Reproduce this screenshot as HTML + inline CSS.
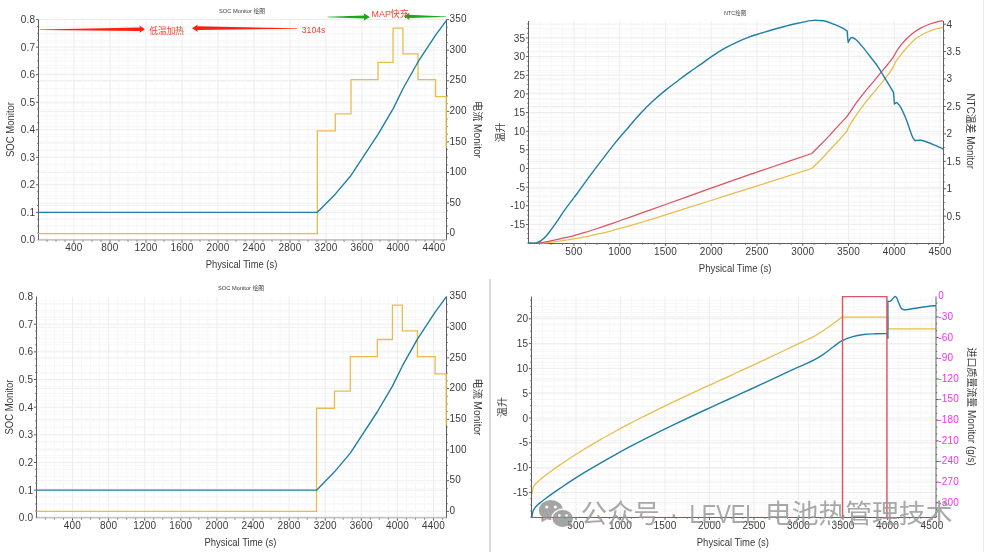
<!DOCTYPE html>
<html lang="zh"><head><meta charset="utf-8"><title>SOC / NTC Monitor plots</title>
<style>html,body{margin:0;padding:0;background:#fff;}body{width:984px;height:552px;overflow:hidden;}svg{display:block;will-change:transform;}</style></head>
<body>
<svg width="984" height="552" viewBox="0 0 984 552" font-family='"Liberation Sans", "Noto Sans CJK SC", sans-serif' shape-rendering="geometricPrecision">
<rect width="984" height="552" fill="#ffffff"/>
<rect x="489" y="279" width="2" height="273" fill="#dcdcdc"/>
<rect x="983" y="0" width="1" height="552" fill="#ebebeb"/>
<path d="M38.5 226.05H446.5M38.5 218.41H446.5M38.5 210.76H446.5M38.5 195.47H446.5M38.5 187.82H446.5M38.5 180.18H446.5M38.5 164.88H446.5M38.5 157.24H446.5M38.5 149.59H446.5M38.5 134.3H446.5M38.5 126.65H446.5M38.5 119.01H446.5M38.5 103.71H446.5M38.5 96.07H446.5M38.5 88.42H446.5M38.5 73.13H446.5M38.5 65.48H446.5M38.5 57.84H446.5M38.5 42.54H446.5M38.5 34.9H446.5M38.5 27.25H446.5" stroke="#f8f8f8" stroke-width="1" fill="none"/>
<path d="M38.5 233.7H446.5M38.5 203.11H446.5M38.5 172.53H446.5M38.5 141.94H446.5M38.5 111.36H446.5M38.5 80.77H446.5M38.5 50.19H446.5" stroke="#efefef" stroke-width="1" fill="none"/>
<path d="M47 19.6V239.8M56 19.6V239.8M65 19.6V239.8M83 19.6V239.8M92 19.6V239.8M101 19.6V239.8M119 19.6V239.8M128 19.6V239.8M137 19.6V239.8M155 19.6V239.8M164 19.6V239.8M173 19.6V239.8M191 19.6V239.8M200 19.6V239.8M209 19.6V239.8M227 19.6V239.8M236 19.6V239.8M245 19.6V239.8M263 19.6V239.8M272 19.6V239.8M281 19.6V239.8M299 19.6V239.8M308 19.6V239.8M317 19.6V239.8M335 19.6V239.8M344 19.6V239.8M353 19.6V239.8M371 19.6V239.8M380 19.6V239.8M389 19.6V239.8M407 19.6V239.8M416 19.6V239.8M425 19.6V239.8M443 19.6V239.8M38.5 233.01H446.5M38.5 226.12H446.5M38.5 219.24H446.5M38.5 205.47H446.5M38.5 198.59H446.5M38.5 191.7H446.5M38.5 177.93H446.5M38.5 171.05H446.5M38.5 164.17H446.5M38.5 150.4H446.5M38.5 143.51H446.5M38.5 136.63H446.5M38.5 122.86H446.5M38.5 115.98H446.5M38.5 109.09H446.5M38.5 95.33H446.5M38.5 88.44H446.5M38.5 81.56H446.5M38.5 67.79H446.5M38.5 60.91H446.5M38.5 54.02H446.5M38.5 40.25H446.5M38.5 33.37H446.5M38.5 26.49H446.5" stroke="#f7f7f7" stroke-width="1" fill="none"/>
<path d="M74 19.6V239.8M110 19.6V239.8M146 19.6V239.8M182 19.6V239.8M218 19.6V239.8M254 19.6V239.8M290 19.6V239.8M326 19.6V239.8M362 19.6V239.8M398 19.6V239.8M434 19.6V239.8M38.5 212.35H446.5M38.5 184.82H446.5M38.5 157.28H446.5M38.5 129.75H446.5M38.5 102.21H446.5M38.5 74.67H446.5M38.5 47.14H446.5M38.5 19.6H446.5" stroke="#ededed" stroke-width="1" fill="none"/>
<path d="M37.5 239.8H447" stroke="#c4c4c4" stroke-width="1.7" fill="none"/>
<path d="M38.5 19.6V239.8M446.5 239.8V19.6M47 240.4v1.2M56 240.4v1.2M65 240.4v1.2M74 240.4v2.4M83 240.4v1.2M92 240.4v1.2M101 240.4v1.2M110 240.4v2.4M119 240.4v1.2M128 240.4v1.2M137 240.4v1.2M146 240.4v2.4M155 240.4v1.2M164 240.4v1.2M173 240.4v1.2M182 240.4v2.4M191 240.4v1.2M200 240.4v1.2M209 240.4v1.2M218 240.4v2.4M227 240.4v1.2M236 240.4v1.2M245 240.4v1.2M254 240.4v2.4M263 240.4v1.2M272 240.4v1.2M281 240.4v1.2M290 240.4v2.4M299 240.4v1.2M308 240.4v1.2M317 240.4v1.2M326 240.4v2.4M335 240.4v1.2M344 240.4v1.2M353 240.4v1.2M362 240.4v2.4M371 240.4v1.2M380 240.4v1.2M389 240.4v1.2M398 240.4v2.4M407 240.4v1.2M416 240.4v1.2M425 240.4v1.2M434 240.4v2.4M443 240.4v1.2M38.5 233.01h-1.2M38.5 226.12h-1.2M38.5 219.24h-1.2M38.5 212.35h-2.6M38.5 205.47h-1.2M38.5 198.59h-1.2M38.5 191.7h-1.2M38.5 184.82h-2.6M38.5 177.93h-1.2M38.5 171.05h-1.2M38.5 164.17h-1.2M38.5 157.28h-2.6M38.5 150.4h-1.2M38.5 143.51h-1.2M38.5 136.63h-1.2M38.5 129.75h-2.6M38.5 122.86h-1.2M38.5 115.98h-1.2M38.5 109.09h-1.2M38.5 102.21h-2.6M38.5 95.33h-1.2M38.5 88.44h-1.2M38.5 81.56h-1.2M38.5 74.67h-2.6M38.5 67.79h-1.2M38.5 60.91h-1.2M38.5 54.02h-1.2M38.5 47.14h-2.6M38.5 40.25h-1.2M38.5 33.37h-1.2M38.5 26.49h-1.2M38.5 19.6h-2.6M446.5 233.7h2.6M446.5 226.05h1.2M446.5 218.41h1.2M446.5 210.76h1.2M446.5 203.11h2.6M446.5 195.47h1.2M446.5 187.82h1.2M446.5 180.18h1.2M446.5 172.53h2.6M446.5 164.88h1.2M446.5 157.24h1.2M446.5 149.59h1.2M446.5 141.94h2.6M446.5 134.3h1.2M446.5 126.65h1.2M446.5 119.01h1.2M446.5 111.36h2.6M446.5 103.71h1.2M446.5 96.07h1.2M446.5 88.42h1.2M446.5 80.77h2.6M446.5 73.13h1.2M446.5 65.48h1.2M446.5 57.84h1.2M446.5 50.19h2.6M446.5 42.54h1.2M446.5 34.9h1.2M446.5 27.25h1.2M446.5 19.6h2.6" stroke="#5e5e5e" stroke-width="1" fill="none"/>
<g font-size="10.0" fill="#3a3a3a" letter-spacing="0.2"><text x="74" y="251.1" text-anchor="middle">400</text><text x="110" y="251.1" text-anchor="middle">800</text><text x="146" y="251.1" text-anchor="middle">1200</text><text x="182" y="251.1" text-anchor="middle">1600</text><text x="218" y="251.1" text-anchor="middle">2000</text><text x="254" y="251.1" text-anchor="middle">2400</text><text x="290" y="251.1" text-anchor="middle">2800</text><text x="326" y="251.1" text-anchor="middle">3200</text><text x="362" y="251.1" text-anchor="middle">3600</text><text x="398" y="251.1" text-anchor="middle">4000</text><text x="434" y="251.1" text-anchor="middle">4400</text><text x="35.3" y="243.49" text-anchor="end">0.0</text><text x="35.3" y="215.95" text-anchor="end">0.1</text><text x="35.3" y="188.42" text-anchor="end">0.2</text><text x="35.3" y="160.88" text-anchor="end">0.3</text><text x="35.3" y="133.35" text-anchor="end">0.4</text><text x="35.3" y="105.81" text-anchor="end">0.5</text><text x="35.3" y="78.27" text-anchor="end">0.6</text><text x="35.3" y="50.74" text-anchor="end">0.7</text><text x="35.3" y="23.2" text-anchor="end">0.8</text></g><g font-size="10.0" fill="#3a3a3a" letter-spacing="0.2"><text x="449.5" y="236.4">0</text><text x="449.5" y="205.81">50</text><text x="449.5" y="175.23">100</text><text x="449.5" y="144.64">150</text><text x="449.5" y="114.06">200</text><text x="449.5" y="83.47">250</text><text x="449.5" y="52.89">300</text><text x="449.5" y="22.3">350</text></g>
<path d="M38 233.7L317.36 233.7L317.36 130.93L335.27 130.93L335.27 113.81L351.02 113.81L351.02 79.55L378.02 79.55L378.02 62.42L393.05 62.42L393.05 28.17L402.95 28.17L402.95 53.86L417.98 53.86L417.98 79.55L435.62 79.55L435.62 96.68L446.2 96.68L446.2 148.06" stroke="#e8be4b" stroke-width="1.3" fill="none" stroke-linejoin="miter"/>
<path d="M38 212.35L317.36 212.35L335.27 194.15L351.02 175.47L378.02 134.31L393.05 108.84L402.95 88.72L417.98 61.98L435.62 35.09L446.5 20.34" stroke="#1f7fa6" stroke-width="1.4" fill="none" stroke-linejoin="round"/>
<text x="242" y="13.3" font-size="5.6" text-anchor="middle" fill="#3a3a3a" textLength="46" lengthAdjust="spacingAndGlyphs">SOC Monitor 绘图</text>
<text x="241.5" y="267.6" font-size="10.1" text-anchor="middle" fill="#3a3a3a" textLength="71.7" lengthAdjust="spacingAndGlyphs">Physical Time (s)</text>
<text x="13.8" y="129.5" font-size="10.1" text-anchor="middle" fill="#3a3a3a" transform="rotate(-90 13.8 129.5)" textLength="55" lengthAdjust="spacingAndGlyphs">SOC Monitor</text>
<text x="474.2" y="129.5" font-size="10.1" text-anchor="middle" fill="#3a3a3a" transform="rotate(90 474.2 129.5)" textLength="57" lengthAdjust="spacingAndGlyphs">电流 Monitor</text>
<path d="M36.5 503.73H446.5M36.5 496.05H446.5M36.5 488.38H446.5M36.5 473.03H446.5M36.5 465.36H446.5M36.5 457.68H446.5M36.5 442.34H446.5M36.5 434.66H446.5M36.5 426.99H446.5M36.5 411.64H446.5M36.5 403.97H446.5M36.5 396.29H446.5M36.5 380.95H446.5M36.5 373.27H446.5M36.5 365.6H446.5M36.5 350.25H446.5M36.5 342.58H446.5M36.5 334.9H446.5M36.5 319.56H446.5M36.5 311.88H446.5M36.5 304.21H446.5" stroke="#f8f8f8" stroke-width="1" fill="none"/>
<path d="M36.5 511.4H446.5M36.5 480.7H446.5M36.5 450.01H446.5M36.5 419.31H446.5M36.5 388.62H446.5M36.5 357.92H446.5M36.5 327.23H446.5" stroke="#efefef" stroke-width="1" fill="none"/>
<path d="M45.42 296.55V517.7M54.45 296.55V517.7M63.47 296.55V517.7M81.53 296.55V517.7M90.55 296.55V517.7M99.57 296.55V517.7M117.62 296.55V517.7M126.65 296.55V517.7M135.67 296.55V517.7M153.72 296.55V517.7M162.75 296.55V517.7M171.78 296.55V517.7M189.82 296.55V517.7M198.85 296.55V517.7M207.88 296.55V517.7M225.93 296.55V517.7M234.95 296.55V517.7M243.97 296.55V517.7M262.02 296.55V517.7M271.05 296.55V517.7M280.07 296.55V517.7M298.12 296.55V517.7M307.15 296.55V517.7M316.17 296.55V517.7M334.22 296.55V517.7M343.25 296.55V517.7M352.27 296.55V517.7M370.32 296.55V517.7M379.35 296.55V517.7M388.37 296.55V517.7M406.42 296.55V517.7M415.45 296.55V517.7M424.47 296.55V517.7M442.52 296.55V517.7M36.5 510.89H446.5M36.5 503.97H446.5M36.5 497.06H446.5M36.5 483.23H446.5M36.5 476.31H446.5M36.5 469.4H446.5M36.5 455.57H446.5M36.5 448.66H446.5M36.5 441.74H446.5M36.5 427.91H446.5M36.5 421H446.5M36.5 414.09H446.5M36.5 400.26H446.5M36.5 393.34H446.5M36.5 386.43H446.5M36.5 372.6H446.5M36.5 365.69H446.5M36.5 358.77H446.5M36.5 344.94H446.5M36.5 338.03H446.5M36.5 331.12H446.5M36.5 317.29H446.5M36.5 310.37H446.5M36.5 303.46H446.5" stroke="#f7f7f7" stroke-width="1" fill="none"/>
<path d="M72.5 296.55V517.7M108.6 296.55V517.7M144.7 296.55V517.7M180.8 296.55V517.7M216.9 296.55V517.7M253 296.55V517.7M289.1 296.55V517.7M325.2 296.55V517.7M361.3 296.55V517.7M397.4 296.55V517.7M433.5 296.55V517.7M36.5 490.14H446.5M36.5 462.49H446.5M36.5 434.83H446.5M36.5 407.17H446.5M36.5 379.51H446.5M36.5 351.86H446.5M36.5 324.2H446.5" stroke="#ededed" stroke-width="1" fill="none"/>
<path d="M35.5 517.7H447" stroke="#c4c4c4" stroke-width="1.7" fill="none"/>
<path d="M36.5 296.55V517.7M446.5 517.7V296.55M45.42 518.3v1.2M54.45 518.3v1.2M63.47 518.3v1.2M72.5 518.3v2.4M81.53 518.3v1.2M90.55 518.3v1.2M99.57 518.3v1.2M108.6 518.3v2.4M117.62 518.3v1.2M126.65 518.3v1.2M135.67 518.3v1.2M144.7 518.3v2.4M153.72 518.3v1.2M162.75 518.3v1.2M171.78 518.3v1.2M180.8 518.3v2.4M189.82 518.3v1.2M198.85 518.3v1.2M207.88 518.3v1.2M216.9 518.3v2.4M225.93 518.3v1.2M234.95 518.3v1.2M243.97 518.3v1.2M253 518.3v2.4M262.02 518.3v1.2M271.05 518.3v1.2M280.07 518.3v1.2M289.1 518.3v2.4M298.12 518.3v1.2M307.15 518.3v1.2M316.17 518.3v1.2M325.2 518.3v2.4M334.22 518.3v1.2M343.25 518.3v1.2M352.27 518.3v1.2M361.3 518.3v2.4M370.32 518.3v1.2M379.35 518.3v1.2M388.37 518.3v1.2M397.4 518.3v2.4M406.42 518.3v1.2M415.45 518.3v1.2M424.47 518.3v1.2M433.5 518.3v2.4M442.52 518.3v1.2M36.5 510.89h-1.2M36.5 503.97h-1.2M36.5 497.06h-1.2M36.5 490.14h-2.6M36.5 483.23h-1.2M36.5 476.31h-1.2M36.5 469.4h-1.2M36.5 462.49h-2.6M36.5 455.57h-1.2M36.5 448.66h-1.2M36.5 441.74h-1.2M36.5 434.83h-2.6M36.5 427.91h-1.2M36.5 421h-1.2M36.5 414.09h-1.2M36.5 407.17h-2.6M36.5 400.26h-1.2M36.5 393.34h-1.2M36.5 386.43h-1.2M36.5 379.51h-2.6M36.5 372.6h-1.2M36.5 365.69h-1.2M36.5 358.77h-1.2M36.5 351.86h-2.6M36.5 344.94h-1.2M36.5 338.03h-1.2M36.5 331.12h-1.2M36.5 324.2h-2.6M36.5 317.29h-1.2M36.5 310.37h-1.2M36.5 303.46h-1.2M446.5 511.4h2.6M446.5 503.73h1.2M446.5 496.05h1.2M446.5 488.38h1.2M446.5 480.7h2.6M446.5 473.03h1.2M446.5 465.36h1.2M446.5 457.68h1.2M446.5 450.01h2.6M446.5 442.34h1.2M446.5 434.66h1.2M446.5 426.99h1.2M446.5 419.31h2.6M446.5 411.64h1.2M446.5 403.97h1.2M446.5 396.29h1.2M446.5 388.62h2.6M446.5 380.95h1.2M446.5 373.27h1.2M446.5 365.6h1.2M446.5 357.92h2.6M446.5 350.25h1.2M446.5 342.58h1.2M446.5 334.9h1.2M446.5 327.23h2.6M446.5 319.56h1.2M446.5 311.88h1.2M446.5 304.21h1.2" stroke="#5e5e5e" stroke-width="1" fill="none"/>
<g font-size="10.0" fill="#3a3a3a" letter-spacing="0.2"><text x="72.5" y="529" text-anchor="middle">400</text><text x="108.6" y="529" text-anchor="middle">800</text><text x="144.7" y="529" text-anchor="middle">1200</text><text x="180.8" y="529" text-anchor="middle">1600</text><text x="216.9" y="529" text-anchor="middle">2000</text><text x="253" y="529" text-anchor="middle">2400</text><text x="289.1" y="529" text-anchor="middle">2800</text><text x="325.2" y="529" text-anchor="middle">3200</text><text x="361.3" y="529" text-anchor="middle">3600</text><text x="397.4" y="529" text-anchor="middle">4000</text><text x="433.5" y="529" text-anchor="middle">4400</text><text x="33.3" y="521.4" text-anchor="end">0.0</text><text x="33.3" y="493.74" text-anchor="end">0.1</text><text x="33.3" y="466.09" text-anchor="end">0.2</text><text x="33.3" y="438.43" text-anchor="end">0.3</text><text x="33.3" y="410.77" text-anchor="end">0.4</text><text x="33.3" y="383.12" text-anchor="end">0.5</text><text x="33.3" y="355.46" text-anchor="end">0.6</text><text x="33.3" y="327.8" text-anchor="end">0.7</text><text x="33.3" y="300.14" text-anchor="end">0.8</text></g><g font-size="10.0" fill="#3a3a3a" letter-spacing="0.2"><text x="449.5" y="514.1">0</text><text x="449.5" y="483.4">50</text><text x="449.5" y="452.71">100</text><text x="449.5" y="422.01">150</text><text x="449.5" y="391.32">200</text><text x="449.5" y="360.62">250</text><text x="449.5" y="329.93">300</text><text x="449.5" y="299.23">350</text></g>
<path d="M36.4 511.4L316.54 511.4L316.54 408.26L334.5 408.26L334.5 391.08L350.29 391.08L350.29 356.7L377.36 356.7L377.36 339.51L392.44 339.51L392.44 305.13L402.36 305.13L402.36 330.91L417.44 330.91L417.44 356.7L435.12 356.7L435.12 373.89L446.2 373.89L446.2 425.45" stroke="#e8be4b" stroke-width="1.3" fill="none" stroke-linejoin="miter"/>
<path d="M36.4 490.14L316.54 490.14L334.5 471.86L350.29 453.1L377.36 411.75L392.44 386.18L402.36 365.96L417.44 339.11L435.12 312.1L446.5 296.66" stroke="#1f7fa6" stroke-width="1.4" fill="none" stroke-linejoin="round"/>
<text x="241" y="290.2" font-size="5.6" text-anchor="middle" fill="#3a3a3a" textLength="46" lengthAdjust="spacingAndGlyphs">SOC Monitor 绘图</text>
<text x="240.5" y="546" font-size="10.1" text-anchor="middle" fill="#3a3a3a" textLength="72" lengthAdjust="spacingAndGlyphs">Physical Time (s)</text>
<text x="13.3" y="407" font-size="10.1" text-anchor="middle" fill="#3a3a3a" transform="rotate(-90 13.3 407)" textLength="55" lengthAdjust="spacingAndGlyphs">SOC Monitor</text>
<text x="474.2" y="407" font-size="10.1" text-anchor="middle" fill="#3a3a3a" transform="rotate(90 474.2 407)" textLength="57" lengthAdjust="spacingAndGlyphs">电流 Monitor</text>
<path d="M528.5 236.74H943.5M528.5 229.88H943.5M528.5 223.03H943.5M528.5 209.31H943.5M528.5 202.45H943.5M528.5 195.6H943.5M528.5 181.88H943.5M528.5 175.02H943.5M528.5 168.17H943.5M528.5 154.45H943.5M528.5 147.59H943.5M528.5 140.74H943.5M528.5 127.02H943.5M528.5 120.16H943.5M528.5 113.31H943.5M528.5 99.59H943.5M528.5 92.73H943.5M528.5 85.88H943.5M528.5 72.16H943.5M528.5 65.31H943.5M528.5 58.45H943.5M528.5 44.73H943.5M528.5 37.88H943.5M528.5 31.02H943.5" stroke="#f8f8f8" stroke-width="1" fill="none"/>
<path d="M528.5 216.17H943.5M528.5 188.74H943.5M528.5 161.31H943.5M528.5 133.88H943.5M528.5 106.45H943.5M528.5 79.02H943.5M528.5 51.59H943.5M528.5 24.16H943.5" stroke="#efefef" stroke-width="1" fill="none"/>
<path d="M539.69 21V243.5M551.12 21V243.5M562.56 21V243.5M585.44 21V243.5M596.88 21V243.5M608.31 21V243.5M631.19 21V243.5M642.62 21V243.5M654.06 21V243.5M676.94 21V243.5M688.38 21V243.5M699.81 21V243.5M722.69 21V243.5M734.12 21V243.5M745.56 21V243.5M768.44 21V243.5M779.88 21V243.5M791.31 21V243.5M814.19 21V243.5M825.62 21V243.5M837.06 21V243.5M859.94 21V243.5M871.38 21V243.5M882.81 21V243.5M905.69 21V243.5M917.12 21V243.5M928.56 21V243.5M528.5 238.44H943.5M528.5 233.77H943.5M528.5 229.11H943.5M528.5 219.79H943.5M528.5 215.12H943.5M528.5 210.46H943.5M528.5 201.14H943.5M528.5 196.47H943.5M528.5 191.81H943.5M528.5 182.49H943.5M528.5 177.82H943.5M528.5 173.16H943.5M528.5 163.84H943.5M528.5 159.18H943.5M528.5 154.51H943.5M528.5 145.19H943.5M528.5 140.53H943.5M528.5 135.86H943.5M528.5 126.54H943.5M528.5 121.88H943.5M528.5 117.21H943.5M528.5 107.89H943.5M528.5 103.23H943.5M528.5 98.56H943.5M528.5 89.24H943.5M528.5 84.58H943.5M528.5 79.91H943.5M528.5 70.59H943.5M528.5 65.93H943.5M528.5 61.26H943.5M528.5 51.94H943.5M528.5 47.28H943.5M528.5 42.61H943.5M528.5 33.29H943.5M528.5 28.63H943.5M528.5 23.96H943.5" stroke="#f7f7f7" stroke-width="1" fill="none"/>
<path d="M574 21V243.5M619.75 21V243.5M665.5 21V243.5M711.25 21V243.5M757 21V243.5M802.75 21V243.5M848.5 21V243.5M894.25 21V243.5M940 21V243.5M528.5 224.45H943.5M528.5 205.8H943.5M528.5 187.15H943.5M528.5 168.5H943.5M528.5 149.85H943.5M528.5 131.2H943.5M528.5 112.55H943.5M528.5 93.9H943.5M528.5 75.25H943.5M528.5 56.6H943.5M528.5 37.95H943.5" stroke="#ededed" stroke-width="1" fill="none"/>
<path d="M528.5 21V243.5H943.5V21M539.69 243.5v1.2M551.12 243.5v1.2M562.56 243.5v1.2M574 243.5v2.4M585.44 243.5v1.2M596.88 243.5v1.2M608.31 243.5v1.2M619.75 243.5v2.4M631.19 243.5v1.2M642.62 243.5v1.2M654.06 243.5v1.2M665.5 243.5v2.4M676.94 243.5v1.2M688.38 243.5v1.2M699.81 243.5v1.2M711.25 243.5v2.4M722.69 243.5v1.2M734.12 243.5v1.2M745.56 243.5v1.2M757 243.5v2.4M768.44 243.5v1.2M779.88 243.5v1.2M791.31 243.5v1.2M802.75 243.5v2.4M814.19 243.5v1.2M825.62 243.5v1.2M837.06 243.5v1.2M848.5 243.5v2.4M859.94 243.5v1.2M871.38 243.5v1.2M882.81 243.5v1.2M894.25 243.5v2.4M905.69 243.5v1.2M917.12 243.5v1.2M928.56 243.5v1.2M940 243.5v2.4M528.5 243.1h-1.2M528.5 238.44h-1.2M528.5 233.77h-1.2M528.5 229.11h-1.2M528.5 224.45h-2.6M528.5 219.79h-1.2M528.5 215.12h-1.2M528.5 210.46h-1.2M528.5 205.8h-2.6M528.5 201.14h-1.2M528.5 196.47h-1.2M528.5 191.81h-1.2M528.5 187.15h-2.6M528.5 182.49h-1.2M528.5 177.82h-1.2M528.5 173.16h-1.2M528.5 168.5h-2.6M528.5 163.84h-1.2M528.5 159.18h-1.2M528.5 154.51h-1.2M528.5 149.85h-2.6M528.5 145.19h-1.2M528.5 140.53h-1.2M528.5 135.86h-1.2M528.5 131.2h-2.6M528.5 126.54h-1.2M528.5 121.88h-1.2M528.5 117.21h-1.2M528.5 112.55h-2.6M528.5 107.89h-1.2M528.5 103.23h-1.2M528.5 98.56h-1.2M528.5 93.9h-2.6M528.5 89.24h-1.2M528.5 84.58h-1.2M528.5 79.91h-1.2M528.5 75.25h-2.6M528.5 70.59h-1.2M528.5 65.93h-1.2M528.5 61.26h-1.2M528.5 56.6h-2.6M528.5 51.94h-1.2M528.5 47.28h-1.2M528.5 42.61h-1.2M528.5 37.95h-2.6M528.5 33.29h-1.2M528.5 28.63h-1.2M528.5 23.96h-1.2M943.5 236.74h1.2M943.5 229.88h1.2M943.5 223.03h1.2M943.5 216.17h2.6M943.5 209.31h1.2M943.5 202.45h1.2M943.5 195.6h1.2M943.5 188.74h2.6M943.5 181.88h1.2M943.5 175.02h1.2M943.5 168.17h1.2M943.5 161.31h2.6M943.5 154.45h1.2M943.5 147.59h1.2M943.5 140.74h1.2M943.5 133.88h2.6M943.5 127.02h1.2M943.5 120.16h1.2M943.5 113.31h1.2M943.5 106.45h2.6M943.5 99.59h1.2M943.5 92.73h1.2M943.5 85.88h1.2M943.5 79.02h2.6M943.5 72.16h1.2M943.5 65.31h1.2M943.5 58.45h1.2M943.5 51.59h2.6M943.5 44.73h1.2M943.5 37.88h1.2M943.5 31.02h1.2M943.5 24.16h2.6" stroke="#5e5e5e" stroke-width="1" fill="none"/>
<g font-size="10.0" fill="#3a3a3a" letter-spacing="0.2"><text x="574" y="254.8" text-anchor="middle">500</text><text x="619.75" y="254.8" text-anchor="middle">1000</text><text x="665.5" y="254.8" text-anchor="middle">1500</text><text x="711.25" y="254.8" text-anchor="middle">2000</text><text x="757" y="254.8" text-anchor="middle">2500</text><text x="802.75" y="254.8" text-anchor="middle">3000</text><text x="848.5" y="254.8" text-anchor="middle">3500</text><text x="894.25" y="254.8" text-anchor="middle">4000</text><text x="940" y="254.8" text-anchor="middle">4500</text><text x="525.3" y="228.05" text-anchor="end">-15</text><text x="525.3" y="209.4" text-anchor="end">-10</text><text x="525.3" y="190.75" text-anchor="end">-5</text><text x="525.3" y="172.1" text-anchor="end">0</text><text x="525.3" y="153.45" text-anchor="end">5</text><text x="525.3" y="134.8" text-anchor="end">10</text><text x="525.3" y="116.15" text-anchor="end">15</text><text x="525.3" y="97.5" text-anchor="end">20</text><text x="525.3" y="78.85" text-anchor="end">25</text><text x="525.3" y="60.2" text-anchor="end">30</text><text x="525.3" y="41.55" text-anchor="end">35</text></g><g font-size="10.0" fill="#3a3a3a" letter-spacing="0.2"><text x="946.5" y="219.57">0.5</text><text x="946.5" y="192.14">1</text><text x="946.5" y="164.71">1.5</text><text x="946.5" y="137.28">2</text><text x="946.5" y="109.85">2.5</text><text x="946.5" y="82.42">3</text><text x="946.5" y="54.99">3.5</text><text x="946.5" y="27.56">4</text></g>
<path d="M529 243.3C530.82 243.28 535.65 243.45 539.9 243.2C544.15 242.95 550.65 242.23 554.5 241.8C558.35 241.37 559.85 241.08 563 240.6C566.15 240.12 569.73 239.53 573.4 238.9C577.07 238.27 581.03 237.58 585 236.8C588.97 236.02 593.13 235.12 597.2 234.2C601.27 233.28 605.75 232.22 609.4 231.3C613.05 230.38 613.33 230.33 619.1 228.7C624.87 227.07 636.27 223.8 644 221.5C651.73 219.2 654.33 218.4 665.5 214.9C676.67 211.4 698.92 204.33 711 200.5C723.08 196.67 727.33 195.28 738 191.9C748.67 188.52 762.71 184.1 775 180.2C787.29 176.3 805.62 170.45 811.75 168.5L811.75 168.5C813.29 167 817.88 162.72 821 159.5C824.12 156.28 827.33 152.62 830.5 149.2C833.67 145.78 837.2 142.07 840 139C842.8 135.93 846.08 132.17 847.3 130.8L847.3 130.8C847.5 130.23 847.07 129.93 848.5 127.4C849.93 124.87 853.25 119.53 855.9 115.6C858.55 111.67 861.37 107.7 864.4 103.8C867.43 99.9 871.25 95.63 874.1 92.2C876.95 88.77 879.48 85.7 881.5 83.2C883.52 80.7 884.37 79.68 886.2 77.2C888.03 74.72 890.97 70.8 892.5 68.3C894.03 65.8 894.12 64.32 895.4 62.2C896.68 60.08 898.17 58.17 900.2 55.6C902.23 53.03 905.15 49.53 907.6 46.8C910.05 44.07 912.33 41.28 914.9 39.2C917.47 37.12 920.48 35.67 923 34.3C925.52 32.93 927.67 31.93 930 31C932.33 30.07 934.8 29.32 937 28.7C939.2 28.08 942.17 27.53 943.2 27.3" stroke="#e8be4b" stroke-width="1.3" fill="none" stroke-linejoin="round" stroke-linecap="butt"/>
<path d="M529 243.3C530.82 243.25 536.07 243.45 539.9 243C543.73 242.55 548.15 241.4 552 240.6C555.85 239.8 559.43 239 563 238.2C566.57 237.4 569.73 236.77 573.4 235.8C577.07 234.83 581.03 233.62 585 232.4C588.97 231.18 593.13 229.83 597.2 228.5C601.27 227.17 605.75 225.65 609.4 224.4C613.05 223.15 613.33 223.03 619.1 221C624.87 218.97 636.27 214.95 644 212.2C651.73 209.45 654.33 208.5 665.5 204.5C676.67 200.5 698.92 192.52 711 188.2C723.08 183.88 727.33 182.3 738 178.6C748.67 174.9 762.71 170.18 775 166C787.29 161.82 805.62 155.58 811.75 153.5L811.75 153.5C813.12 152.13 817.38 147.95 820 145.3C822.62 142.65 825.17 140.05 827.5 137.6C829.83 135.15 831.92 132.88 834 130.6C836.08 128.32 837.83 126.27 840 123.9C842.17 121.53 845.07 118.75 847 116.4C848.93 114.05 850.12 111.97 851.6 109.8C853.08 107.63 853.77 106.32 855.9 103.4C858.03 100.48 861.37 96.07 864.4 92.3C867.43 88.53 871.05 84.45 874.1 80.8C877.15 77.15 880.38 73.2 882.7 70.4C885.02 67.6 886.28 66.13 888 64C889.72 61.87 891.37 60.03 893 57.6C894.63 55.17 895.78 52.28 897.8 49.4C899.82 46.52 902.45 43.1 905.1 40.3C907.75 37.5 911.05 34.67 913.7 32.6C916.35 30.53 918.28 29.33 921 27.9C923.72 26.47 927.33 25.02 930 24C932.67 22.98 934.8 22.33 937 21.8C939.2 21.27 942.17 20.97 943.2 20.8" stroke="#dc5562" stroke-width="1.3" fill="none" stroke-linejoin="round" stroke-linecap="butt"/>
<path d="M528.9 243C529.58 243.02 531.78 243.1 533 243.1C534.22 243.1 534.85 243.42 536.2 243C537.55 242.58 539.47 241.72 541.1 240.6C542.73 239.48 544.38 238.03 546 236.3C547.62 234.57 548.98 232.63 550.8 230.2C552.62 227.77 554.67 224.95 556.9 221.7C559.13 218.45 561.55 214.47 564.2 210.7C566.85 206.93 570.72 201.88 572.8 199.1C574.88 196.32 573.85 197.88 576.7 194C579.55 190.12 585.68 181.48 589.9 175.8C594.12 170.12 597.95 165.18 602 159.9C606.05 154.62 609.75 149.58 614.2 144.1C618.65 138.62 624.37 132.07 628.7 127C633.03 121.93 636.25 117.95 640.2 113.7C644.15 109.45 648.12 105.47 652.4 101.5C656.68 97.53 661.63 93.37 665.9 89.9C670.17 86.43 673.95 83.75 678 80.7C682.05 77.65 686.53 74.23 690.2 71.6C693.87 68.97 696.33 67.48 700 64.9C703.67 62.32 708.13 58.85 712.2 56.1C716.27 53.35 720.33 50.7 724.4 48.4C728.47 46.1 732.53 44.18 736.6 42.3C740.67 40.42 744.73 38.62 748.8 37.1C752.87 35.58 756.93 34.47 761 33.2C765.07 31.93 769.13 30.67 773.2 29.5C777.27 28.33 781.33 27.25 785.4 26.2C789.47 25.15 793.33 24.13 797.6 23.2C801.87 22.27 807.52 21.07 811 20.6C814.48 20.13 816.02 20.3 818.5 20.4C820.98 20.5 823.25 20.53 825.9 21.2C828.55 21.87 831.77 23.32 834.4 24.4C837.03 25.48 839.57 26.6 841.7 27.7C843.83 28.8 846.28 30.45 847.2 31L847.5 36L848.2 42.5L848.2 42.5C848.47 41.95 849.15 40.03 849.8 39.2C850.45 38.37 851.02 37.38 852.1 37.5C853.18 37.62 854.58 38.38 856.3 39.9C858.02 41.42 859.95 43.65 862.4 46.6C864.85 49.55 868.35 54.15 871 57.6C873.65 61.05 875.75 63.5 878.3 67.3C880.85 71.1 883.77 76.22 886.3 80.4C888.83 84.58 892.3 90.4 893.5 92.4L893.9 97L894.4 104L894.4 104C894.63 103.83 895.32 103.18 895.8 103C896.28 102.82 896.43 102.1 897.3 102.9C898.17 103.7 899.57 105.18 901 107.8C902.43 110.42 904.07 113.95 905.9 118.6C907.73 123.25 910.48 132.02 912 135.7C913.52 139.38 914.5 139.87 915 140.7L915 140.7C915.92 140.62 918.77 140.07 920.5 140.2C922.23 140.33 923.17 140.73 925.4 141.5C927.63 142.27 930.93 143.58 933.9 144.8C936.87 146.02 941.65 148.13 943.2 148.8" stroke="#1f7fa6" stroke-width="1.4" fill="none" stroke-linejoin="round" stroke-linecap="butt"/>
<text x="735.1" y="14.6" font-size="5.6" text-anchor="middle" fill="#3a3a3a" textLength="22" lengthAdjust="spacingAndGlyphs">NTC绘图</text>
<text x="735.1" y="271.8" font-size="10.1" text-anchor="middle" fill="#3a3a3a" textLength="72.6" lengthAdjust="spacingAndGlyphs">Physical Time (s)</text>
<text x="503.6" y="132.4" font-size="10.1" text-anchor="middle" fill="#3a3a3a" transform="rotate(-90 503.6 132.4)" textLength="19.8" lengthAdjust="spacingAndGlyphs">温升</text>
<text x="967.2" y="131.3" font-size="10.1" text-anchor="middle" fill="#3a3a3a" transform="rotate(90 967.2 131.3)" textLength="75.6" lengthAdjust="spacingAndGlyphs">NTC温差 Monitor</text>
<path d="M531.5 516.57H936M531.5 509.68H936M531.5 495.92H936M531.5 489.03H936M531.5 475.27H936M531.5 468.38H936M531.5 454.62H936M531.5 447.73H936M531.5 433.97H936M531.5 427.08H936M531.5 413.32H936M531.5 406.43H936M531.5 392.67H936M531.5 385.78H936M531.5 372.02H936M531.5 365.13H936M531.5 351.37H936M531.5 344.48H936M531.5 330.72H936M531.5 323.83H936M531.5 310.07H936M531.5 303.18H936" stroke="#f8f8f8" stroke-width="1" fill="none"/>
<path d="M531.5 502.8H936M531.5 482.15H936M531.5 461.5H936M531.5 440.85H936M531.5 420.2H936M531.5 399.55H936M531.5 378.9H936M531.5 358.25H936M531.5 337.6H936M531.5 316.95H936" stroke="#efefef" stroke-width="1" fill="none"/>
<path d="M542.62 296.5V517.5M553.75 296.5V517.5M564.88 296.5V517.5M587.12 296.5V517.5M598.25 296.5V517.5M609.38 296.5V517.5M631.62 296.5V517.5M642.75 296.5V517.5M653.88 296.5V517.5M676.12 296.5V517.5M687.25 296.5V517.5M698.38 296.5V517.5M720.62 296.5V517.5M731.75 296.5V517.5M742.88 296.5V517.5M765.12 296.5V517.5M776.25 296.5V517.5M787.38 296.5V517.5M809.62 296.5V517.5M820.75 296.5V517.5M831.88 296.5V517.5M854.12 296.5V517.5M865.25 296.5V517.5M876.38 296.5V517.5M898.62 296.5V517.5M909.75 296.5V517.5M920.88 296.5V517.5M531.5 511H936M531.5 504.8H936M531.5 498.6H936M531.5 486.2H936M531.5 480H936M531.5 473.8H936M531.5 461.4H936M531.5 455.2H936M531.5 449H936M531.5 436.6H936M531.5 430.4H936M531.5 424.2H936M531.5 411.8H936M531.5 405.6H936M531.5 399.4H936M531.5 387H936M531.5 380.8H936M531.5 374.6H936M531.5 362.2H936M531.5 356H936M531.5 349.8H936M531.5 337.4H936M531.5 331.2H936M531.5 325H936M531.5 312.6H936M531.5 306.4H936M531.5 300.2H936" stroke="#f7f7f7" stroke-width="1" fill="none"/>
<path d="M576 296.5V517.5M620.5 296.5V517.5M665 296.5V517.5M709.5 296.5V517.5M754 296.5V517.5M798.5 296.5V517.5M843 296.5V517.5M887.5 296.5V517.5M932 296.5V517.5M531.5 492.4H936M531.5 467.6H936M531.5 442.8H936M531.5 418H936M531.5 393.2H936M531.5 368.4H936M531.5 343.6H936M531.5 318.8H936" stroke="#ededed" stroke-width="1" fill="none"/>
<path d="M531.9 494.6C532.1 493.48 532.48 489.72 533.1 487.9C533.72 486.08 535.18 484.4 535.6 483.7L535.6 483.9C536.33 483.2 538.43 481.07 540 479.7C541.57 478.33 543 477.23 545 475.7C547 474.17 549.5 472.3 552 470.5C554.5 468.7 557 466.95 560 464.9C563 462.85 565.83 460.88 570 458.2C574.17 455.52 580 451.85 585 448.8C590 445.75 595 442.78 600 439.9C605 437.02 610 434.25 615 431.5C620 428.75 625 426.02 630 423.4C635 420.78 640 418.3 645 415.8C650 413.3 655 410.83 660 408.4C665 405.97 670 403.58 675 401.2C680 398.82 685 396.43 690 394.1C695 391.77 700 389.48 705 387.2C710 384.92 715 382.68 720 380.4C725 378.12 730 375.8 735 373.5C740 371.2 745 368.92 750 366.6C755 364.28 760 361.95 765 359.6C770 357.25 775 354.88 780 352.5C785 350.12 791 347.18 795 345.3C799 343.42 800.88 342.65 804 341.2C807.12 339.75 810.47 338.38 813.7 336.6C816.93 334.82 820.15 332.63 823.4 330.5C826.65 328.37 830.15 326.02 833.2 323.8C836.25 321.58 840.28 318.3 841.7 317.2L841.7 317.2L887.9 317.2L887.9 328.8L936 328.8" stroke="#e8be4b" stroke-width="1.3" fill="none" stroke-linejoin="round" stroke-linecap="butt"/>
<path d="M531.9 517.2C532.1 516.18 532.48 512.83 533.1 511.1C533.72 509.37 535.18 507.52 535.6 506.8L535.6 506.9C536.33 506.23 538.43 504.22 540 502.9C541.57 501.58 543 500.5 545 499C547 497.5 549.5 495.67 552 493.9C554.5 492.13 557 490.43 560 488.4C563 486.37 565.83 484.4 570 481.7C574.17 479 580 475.27 585 472.2C590 469.13 595 466.2 600 463.3C605 460.4 610 457.57 615 454.8C620 452.03 625 449.35 630 446.7C635 444.05 640 441.45 645 438.9C650 436.35 655 433.87 660 431.4C665 428.93 670 426.5 675 424.1C680 421.7 685 419.35 690 417C695 414.65 700 412.3 705 410C710 407.7 715 405.48 720 403.2C725 400.92 730 398.58 735 396.3C740 394.02 745 391.78 750 389.5C755 387.22 760 384.92 765 382.6C770 380.28 775 377.93 780 375.6C785 373.27 791 370.43 795 368.6C799 366.77 800.88 366 804 364.6C807.12 363.2 810.47 361.92 813.7 360.2C816.93 358.48 820.15 356.5 823.4 354.3C826.65 352.1 830.15 349.23 833.2 347C836.25 344.77 838.45 342.63 841.7 340.9C844.95 339.17 849.03 337.67 852.7 336.6C856.37 335.53 859.98 334.97 863.7 334.5C867.42 334.03 871.08 333.95 875 333.8C878.92 333.65 885.17 333.63 887.2 333.6L887.9 338.4L887.9 301.3L887.9 301.3C888.32 301.28 889.63 301.58 890.4 301.2C891.17 300.82 891.7 299.78 892.5 299C893.3 298.22 894.45 296.58 895.2 296.5C895.95 296.42 896.48 297.6 897 298.5C897.52 299.4 897.68 300.43 898.3 301.9C898.92 303.37 900 306.08 900.7 307.3C901.4 308.52 901.88 308.78 902.5 309.2C903.12 309.62 903.48 309.75 904.4 309.8C905.32 309.85 906.17 309.77 908 309.5C909.83 309.23 912.13 308.7 915.4 308.2C918.67 307.7 924.17 306.92 927.6 306.5C931.03 306.08 934.6 305.83 936 305.7" stroke="#1f7fa6" stroke-width="1.4" fill="none" stroke-linejoin="round" stroke-linecap="butt"/>
<path d="M842.5 517.5V296.6H886.9V517.5" stroke="#dc5562" stroke-width="1.4" fill="none" stroke-linejoin="miter"/>
<path d="M531.5 296.5V517.5H936V296.5M542.62 517.5v1.2M553.75 517.5v1.2M564.88 517.5v1.2M576 517.5v2.4M587.12 517.5v1.2M598.25 517.5v1.2M609.38 517.5v1.2M620.5 517.5v2.4M631.62 517.5v1.2M642.75 517.5v1.2M653.88 517.5v1.2M665 517.5v2.4M676.12 517.5v1.2M687.25 517.5v1.2M698.38 517.5v1.2M709.5 517.5v2.4M720.62 517.5v1.2M731.75 517.5v1.2M742.88 517.5v1.2M754 517.5v2.4M765.12 517.5v1.2M776.25 517.5v1.2M787.38 517.5v1.2M798.5 517.5v2.4M809.62 517.5v1.2M820.75 517.5v1.2M831.88 517.5v1.2M843 517.5v2.4M854.12 517.5v1.2M865.25 517.5v1.2M876.38 517.5v1.2M887.5 517.5v2.4M898.62 517.5v1.2M909.75 517.5v1.2M920.88 517.5v1.2M932 517.5v2.4M531.5 517.2h-1.2M531.5 511h-1.2M531.5 504.8h-1.2M531.5 498.6h-1.2M531.5 492.4h-2.6M531.5 486.2h-1.2M531.5 480h-1.2M531.5 473.8h-1.2M531.5 467.6h-2.6M531.5 461.4h-1.2M531.5 455.2h-1.2M531.5 449h-1.2M531.5 442.8h-2.6M531.5 436.6h-1.2M531.5 430.4h-1.2M531.5 424.2h-1.2M531.5 418h-2.6M531.5 411.8h-1.2M531.5 405.6h-1.2M531.5 399.4h-1.2M531.5 393.2h-2.6M531.5 387h-1.2M531.5 380.8h-1.2M531.5 374.6h-1.2M531.5 368.4h-2.6M531.5 362.2h-1.2M531.5 356h-1.2M531.5 349.8h-1.2M531.5 343.6h-2.6M531.5 337.4h-1.2M531.5 331.2h-1.2M531.5 325h-1.2M531.5 318.8h-2.6M531.5 312.6h-1.2M531.5 306.4h-1.2M531.5 300.2h-1.2M936 516.57h1.2M936 509.68h1.2M936 502.8h2.6M936 495.92h1.2M936 489.03h1.2M936 482.15h2.6M936 475.27h1.2M936 468.38h1.2M936 461.5h2.6M936 454.62h1.2M936 447.73h1.2M936 440.85h2.6M936 433.97h1.2M936 427.08h1.2M936 420.2h2.6M936 413.32h1.2M936 406.43h1.2M936 399.55h2.6M936 392.67h1.2M936 385.78h1.2M936 378.9h2.6M936 372.02h1.2M936 365.13h1.2M936 358.25h2.6M936 351.37h1.2M936 344.48h1.2M936 337.6h2.6M936 330.72h1.2M936 323.83h1.2M936 316.95h2.6M936 310.07h1.2M936 303.18h1.2" stroke="#5e5e5e" stroke-width="1" fill="none"/>
<g font-size="10.0" fill="#3a3a3a" letter-spacing="0.2"><text x="576" y="528.8" text-anchor="middle">500</text><text x="620.5" y="528.8" text-anchor="middle">1000</text><text x="665" y="528.8" text-anchor="middle">1500</text><text x="709.5" y="528.8" text-anchor="middle">2000</text><text x="754" y="528.8" text-anchor="middle">2500</text><text x="798.5" y="528.8" text-anchor="middle">3000</text><text x="843" y="528.8" text-anchor="middle">3500</text><text x="887.5" y="528.8" text-anchor="middle">4000</text><text x="932" y="528.8" text-anchor="middle">4500</text><text x="528.3" y="496" text-anchor="end">-15</text><text x="528.3" y="471.2" text-anchor="end">-10</text><text x="528.3" y="446.4" text-anchor="end">-5</text><text x="528.3" y="421.6" text-anchor="end">0</text><text x="528.3" y="396.8" text-anchor="end">5</text><text x="528.3" y="372" text-anchor="end">10</text><text x="528.3" y="347.2" text-anchor="end">15</text><text x="528.3" y="322.4" text-anchor="end">20</text></g><g font-size="10.0" fill="#fa2cfa" letter-spacing="0.2"><text x="938.2" y="505.7">-300</text><text x="938.2" y="485.05">-270</text><text x="938.2" y="464.4">-240</text><text x="938.2" y="443.75">-210</text><text x="938.2" y="423.1">-180</text><text x="938.2" y="402.45">-150</text><text x="938.2" y="381.8">-120</text><text x="938.2" y="361.15">-90</text><text x="938.2" y="340.5">-60</text><text x="938.2" y="319.85">-30</text><text x="938.2" y="299.2">0</text></g>
<path d="M532 517.5H842M887.5 517.5H935.5" stroke="#a5485a" stroke-width="1" fill="none"/>
<text x="732.9" y="545.9" font-size="10.1" text-anchor="middle" fill="#3a3a3a" textLength="72.2" lengthAdjust="spacingAndGlyphs">Physical Time (s)</text>
<text x="505.6" y="407" font-size="10.1" text-anchor="middle" fill="#3a3a3a" transform="rotate(-90 505.6 407)" textLength="19.8" lengthAdjust="spacingAndGlyphs">温升</text>
<text x="968" y="406.7" font-size="10.1" text-anchor="middle" fill="#3a3a3a" transform="rotate(90 968 406.7)" textLength="118.3" lengthAdjust="spacingAndGlyphs">进口质量流量 Monitor (g/s)</text>
<polygon points="40,29.4 140,27.47 139.4,25.62 145,29.2 139.4,32.82 140,30.97 40,30" fill="#ff1f10"/>
<polygon points="297.5,28.2 197.2,26.31 197.8,24.51 192,28.2 197.8,31.91 197.2,30.11 297.5,28.8" fill="#ff1f10"/>
<polygon points="327.5,16.7 364.2,15.4 363.6,13.3 370,17 363.6,20.7 364.2,18.6 327.5,17.3" fill="#1ea71e"/>
<polygon points="446,16.5 409,14.71 409.6,12.66 403.6,16.3 409.6,20.06 409,18.01 446,17.1" fill="#1ea71e"/>
<text x="149.3" y="33.9" font-size="8.7" text-anchor="start" fill="#ff3b2f">低温加热</text>
<text x="301.8" y="33" font-size="9.5" text-anchor="start" fill="#ff3b2f" textLength="23.6" lengthAdjust="spacingAndGlyphs">3104s</text>
<text x="371.6" y="17.4" font-size="8.9" text-anchor="start" fill="#ff3b2f" textLength="37" lengthAdjust="spacingAndGlyphs">MAP快充</text>
<mask id="wm" maskUnits="userSpaceOnUse" x="530" y="495" width="50" height="40"><rect x="530" y="495" width="50" height="40" fill="#fff"/><ellipse cx="562.7" cy="518.4" rx="11.5" ry="9.8" fill="#000"/><circle cx="546.8" cy="507" r="1.5" fill="#000"/><circle cx="555.3" cy="507" r="1.5" fill="#000"/></mask><mask id="wm2" maskUnits="userSpaceOnUse" x="530" y="495" width="50" height="40"><rect x="530" y="495" width="50" height="40" fill="#fff"/><circle cx="559.4" cy="515.6" r="1.25" fill="#000"/><circle cx="566.5" cy="515.6" r="1.25" fill="#000"/></mask>
<g fill="#8f8f8f" fill-opacity="0.8"><g mask="url(#wm)"><path d="M541.2 517.2L541.6 522.2L546.6 519.6Z"/><ellipse cx="550.9" cy="510.2" rx="12" ry="10.1"/></g><g mask="url(#wm2)"><ellipse cx="562.7" cy="518.4" rx="10.2" ry="8.5"/><path d="M567.5 524.6L571.6 528.2L571.2 523Z"/></g></g>
<text y="523.4" font-size="26.4" fill="#999999" fill-opacity="0.85"><tspan x="580.8" textLength="79" lengthAdjust="spacingAndGlyphs">公众号</tspan><tspan x="669.5">·</tspan><tspan x="689.5" textLength="68" lengthAdjust="spacingAndGlyphs">LEVEL</tspan><tspan x="765" textLength="187.4" lengthAdjust="spacingAndGlyphs">电池热管理技术</tspan></text>
</svg>
</body></html>
